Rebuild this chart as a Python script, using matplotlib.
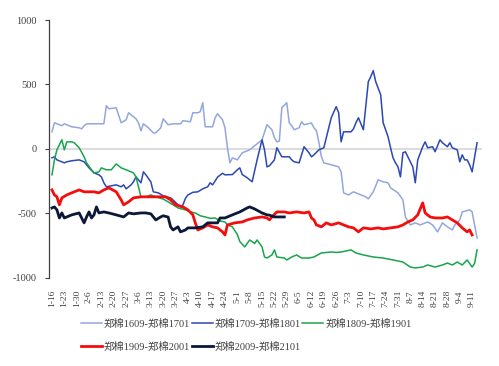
import matplotlib
matplotlib.use("Agg")
import matplotlib.pyplot as plt
from matplotlib.lines import Line2D

# ---- categories (trading-day axis, labelled every 5th day) ----
tick_labels = ["1-16", "1-23", "1-30", "2-6", "2-13", "2-20", "2-27", "3-6", "3-13",
               "3-20", "3-27", "4-3", "4-10", "4-17", "4-24", "5-1", "5-8", "5-15",
               "5-22", "5-29", "6-5", "6-12", "6-19", "6-26", "7-3", "7-10", "7-17",
               "7-24", "7-31", "8-7", "8-14", "8-21", "8-28", "9-4", "9-11"]
tick_step = 5

# ---- series: day index and spread value ----
s1_name = "郑棉1609-郑棉1701"
s1_x = [0, 1, 4, 5, 8, 11, 12, 13, 14, 21, 22, 23, 26, 28, 30, 31, 32, 34, 35, 36, 37, 39,
        41, 42, 44, 45, 47, 49, 52, 53, 56, 57, 59, 60, 61, 62, 65, 66, 67, 69, 70, 71, 72,
        73, 75, 77, 80, 85, 87, 89, 90, 91, 92, 93, 95, 96, 97, 98, 100, 101, 102, 105, 106,
        107, 108, 109, 110, 113, 116, 117, 118, 120, 122, 125, 127, 128, 130, 132, 134, 136,
        137, 140, 142, 143, 145, 147, 149, 152, 154, 156, 158, 160, 162, 163, 165, 166, 169,
        170, 172]
s1_y = [132, 202, 179, 194, 171, 163, 155, 179, 194, 194, 334, 311, 318, 202, 225, 280, 264,
        233, 202, 140, 194, 163, 124, 124, 163, 233, 187, 194, 194, 218, 210, 280, 280, 288,
        358, 171, 171, 241, 272, 225, 163, 8, -109, -70, -86, -31, -8, 70, 187, 148, 86, 54,
        60, 319, 358, 202, 179, 148, 163, 210, 187, 200, 163, 140, 50, -60, -109, -124, -140,
        -179, -342, -358, -334, -358, -373, -389, -334, -241, -256, -264, -303, -342, -397,
        -529, -591, -575, -591, -568, -591, -645, -575, -606, -630, -591, -552, -490, -474,
        -490, -692]

s2_name = "郑棉1709-郑棉1801"
s2_x = [0, 1, 2, 5, 6, 8, 11, 13, 15, 17, 19, 20, 21, 22, 26, 28, 29, 30, 32, 33, 34, 35, 36,
        37, 38, 40, 41, 43, 45, 48, 49, 51, 52, 53, 54, 55, 57, 59, 61, 63, 64, 65, 67, 69,
        70, 73, 75, 76, 77, 79, 80, 81, 83, 85, 86, 87, 88, 90, 91, 93, 96, 97, 98, 100, 102,
        104, 105, 106, 108, 110, 111, 113, 115, 116, 117, 118, 121, 122, 123, 124, 126, 127,
        128, 129, 130, 131, 132, 133, 134, 135, 136, 137, 138, 139, 140, 141, 142, 143, 144,
        146, 147, 148, 150, 151, 152, 154, 155, 157, 158, 160, 161, 162, 164, 165, 166, 167,
        168, 169, 170, 172]
s2_y = [-70, -62, -86, -109, -101, -93, -86, -101, -148, -187, -202, -218, -264, -295, -280,
        -295, -280, -311, -280, -256, -218, -241, -264, -179, -202, -256, -334, -342, -365,
        -381, -397, -435, -451, -435, -385, -358, -338, -334, -311, -295, -264, -280, -220,
        -190, -202, -200, -163, -148, -200, -225, -241, -256, -86, 70, -8, -140, -132, -86, 8,
        -62, -62, -86, -101, -109, 16, -31, -62, -47, -8, 8, 86, 241, 327, 280, 54, 132, 132,
        155, 202, 241, 148, 334, 521, 560, 607, 521, 470, 420, 202, 148, 93, 8, -70, -109,
        -140, -218, -31, -23, -62, -140, -264, -86, 16, 54, 8, 16, -23, 70, 47, 16, 47, 8, -8,
        -101, -47, -86, -86, -124, -179, 47]

s3_name = "郑棉1809-郑棉1901"
s3_x = [0, 1, 2, 4, 5, 6, 8, 9, 11, 13, 14, 16, 17, 19, 20, 22, 24, 26, 28, 30, 32, 33, 34,
        35, 36, 38, 40, 42, 45, 47, 49, 51, 54, 56, 58, 60, 62, 64, 66, 68, 70, 71, 73, 75,
        76, 78, 80, 82, 83, 85, 86, 87, 89, 90, 91, 94, 95, 97, 99, 101, 104, 106, 109, 113,
        115, 117, 121, 123, 126, 130, 134, 138, 142, 145, 147, 150, 152, 155, 158, 160, 162,
        164, 166, 168, 170, 171, 172]
s3_y = [-202, -86, -8, 70, -8, 54, 54, 47, 8, -62, -109, -163, -187, -179, -148, -163, -163,
        -117, -148, -163, -179, -187, -218, -295, -373, -373, -358, -373, -390, -412, -435,
        -459, -474, -490, -498, -520, -529, -540, -537, -560, -568, -591, -606, -665, -720,
        -762, -708, -735, -708, -762, -840, -848, -824, -785, -840, -848, -863, -840, -824,
        -848, -848, -840, -809, -801, -805, -801, -785, -809, -824, -840, -848, -863, -879,
        -918, -925, -918, -902, -918, -902, -887, -902, -879, -902, -863, -918, -890, -785]

s4_name = "郑棉1909-郑棉2001"
s4_x = [0, 1, 2, 3, 4, 6, 9, 11, 13, 17, 19, 21, 23, 26, 28, 29, 31, 33, 36, 38, 42, 46, 48,
        50, 53, 55, 57, 58, 59, 61, 63, 65, 67, 69, 70, 71, 74, 77, 79, 82, 85, 87, 88, 89,
        91, 94, 96, 99, 102, 104, 105, 106, 107, 109, 111, 113, 116, 118, 120, 122, 124, 126,
        129, 132, 134, 137, 140, 142, 144, 146, 148, 150, 151, 153, 155, 158, 160, 162, 164,
        166, 168, 169, 170]
s4_y = [-319, -358, -373, -435, -381, -358, -334, -319, -334, -334, -342, -319, -303, -334,
        -397, -435, -412, -381, -373, -373, -373, -373, -397, -435, -451, -474, -513, -575,
        -630, -614, -591, -606, -614, -645, -669, -591, -575, -568, -552, -537, -529, -537,
        -552, -529, -490, -490, -498, -490, -498, -490, -537, -552, -591, -606, -575, -591,
        -575, -591, -606, -614, -645, -614, -622, -614, -622, -614, -606, -591, -568, -552,
        -513, -420, -498, -529, -537, -537, -529, -552, -575, -614, -645, -630, -669]

s5_name = "郑棉2009-郑棉2101"
s5_x = [0, 1, 2, 3, 4, 5, 8, 11, 13, 14, 15, 16, 17, 18, 19, 21, 23, 26, 29, 31, 33, 36, 38,
        40, 42, 44, 45, 47, 48, 49, 51, 52, 54, 55, 58, 61, 63, 67, 68, 70, 73, 76, 79, 80,
        82, 85, 87, 88, 90, 94]
s5_y = [-459, -451, -474, -537, -498, -537, -513, -498, -575, -529, -490, -537, -513, -451,
        -498, -490, -498, -513, -529, -498, -505, -498, -498, -505, -552, -529, -520, -530,
        -606, -630, -606, -645, -630, -614, -614, -606, -575, -575, -537, -537, -513, -490,
        -459, -451, -467, -498, -513, -515, -529, -529]

series = [
    (s1_name, s1_x, s1_y, "#93A7DD", 1.1),
    (s2_name, s2_x, s2_y, "#2C48B3", 1.1),
    (s3_name, s3_x, s3_y, "#17A54E", 1.1),
    (s4_name, s4_x, s4_y, "#F50D0D", 2.0),
    (s5_name, s5_x, s5_y, "#0C1838", 2.0),
]

W, H = 499, 366
fig = plt.figure(figsize=(W / 100, H / 100), dpi=100)
ax = fig.add_axes([49 / W, 1 - 277.6 / H, 433 / W, 257.6 / H])

serif = ["Liberation Serif", "Noto Sans CJK SC"]

handles = []
for name, xs, ys, color, lw in series:
    (ln,) = ax.plot(xs, ys, color=color, lw=lw, solid_joinstyle="round", zorder=3)
    handles.append(ln)

ax.axhline(0, color="#D9D9D9", lw=1.3, zorder=1)

ax.set_xlim(-1.2, 174)
ax.set_ylim(-1000, 1000)
ax.set_yticks([-1000, -500, 0, 500, 1000])
ax.set_yticklabels(["-1000", "-500", "0", "500", "1000"], family=serif, fontsize=7.5,
                   color="#404040")
ax.set_xticks([i * tick_step for i in range(len(tick_labels))])
ax.set_xticklabels(tick_labels, rotation=90, family=serif, fontsize=6.8, color="#404040")
ax.tick_params(axis="x", length=0, pad=9)
ax.tick_params(axis="y", length=3, width=0.8, color="#404040", pad=6, direction="out")

for side in ["top", "right", "bottom"]:
    ax.spines[side].set_visible(False)
ax.spines["left"].set_color("#404040")
ax.spines["left"].set_linewidth(0.9)

order = [0, 3, 1, 4, 2]
leg = fig.legend([handles[i] for i in order], [series[i][0] for i in order],
                 loc="upper left", bbox_to_anchor=(81 / W, 1 - 319 / H), ncol=3,
                 frameon=False, prop={"family": serif, "size": 7.5},
                 handlelength=2.0, handletextpad=0.2, columnspacing=0.15,
                 labelspacing=1.2, borderpad=0, borderaxespad=0)
for t in leg.get_texts():
    t.set_color("#404040")

fig.savefig("out.png", dpi=100)
